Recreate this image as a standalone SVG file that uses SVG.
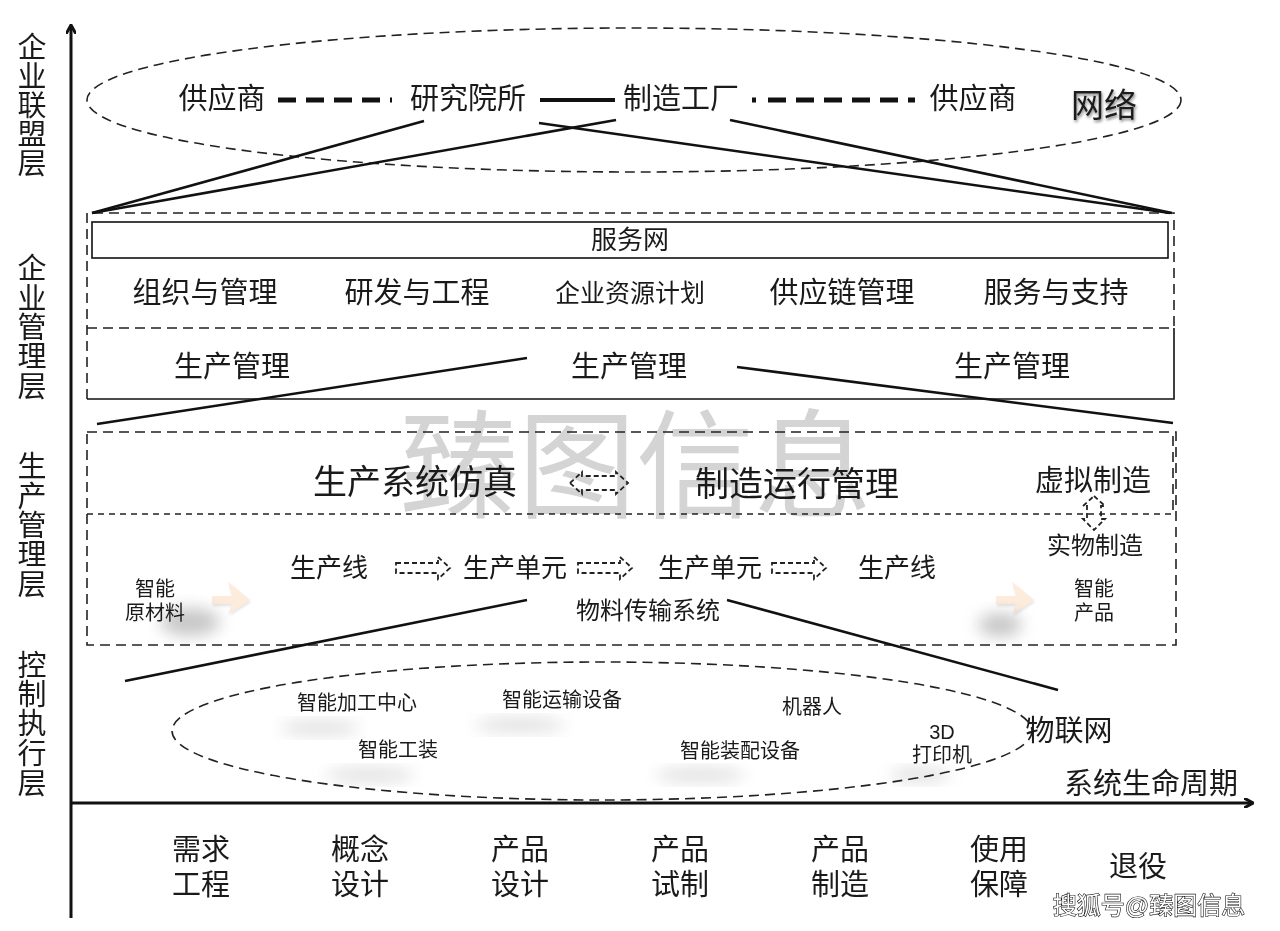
<svg xmlns="http://www.w3.org/2000/svg" width="1280" height="931" viewBox="0 0 1280 931">
<style>
text{font-family:"Liberation Sans","Noto Sans CJK SC",sans-serif;fill:#1a1a1a;text-anchor:middle;dominant-baseline:central}
.ax{font-size:29px}
.l29{font-size:29px}
.l34{font-size:34px}
.l26{font-size:26px}
.l24{font-size:24px}
.l20{font-size:20px}
.dash{fill:none;stroke:#222;stroke-width:1.6;stroke-dasharray:10 6}
.sdash{fill:none;stroke:#222;stroke-width:1.6;stroke-dasharray:6 5}
.solid{fill:none;stroke:#111;stroke-width:1.6}
.conn{stroke:#111;stroke-width:2.6;fill:none}
.barr{fill:none;stroke:#222;stroke-width:1.8;stroke-dasharray:5 3}
</style>
<defs>
<marker id="ah" markerWidth="10" markerHeight="10" refX="8" refY="5" orient="auto" markerUnits="userSpaceOnUse">
<path d="M0,0 L9,5 L0,10" fill="none" stroke="#111" stroke-width="3"/>
</marker>
<filter id="blur" x="-50%" y="-50%" width="200%" height="200%"><feGaussianBlur stdDeviation="8"/></filter>
<filter id="sh" x="-20%" y="-20%" width="140%" height="140%"><feGaussianBlur in="SourceAlpha" stdDeviation="1.5"/><feOffset dx="1" dy="2"/><feComponentTransfer><feFuncA type="linear" slope="0.5"/></feComponentTransfer><feMerge><feMergeNode/><feMergeNode in="SourceGraphic"/></feMerge></filter>
<path id="rarrow" d="M0,-5 H42 V-11 L54,0 L42,11 V5 H0 Z"/>
</defs>
<rect width="1280" height="931" fill="#fff"/>

<!-- watermark -->
<text x="636" y="468" style="font-size:118px;fill:#d4d4d4">臻图信息</text>

<!-- background blurs -->
<g id="blurs" opacity="0.55">
<ellipse cx="190" cy="622" rx="30" ry="14" fill="#999" filter="url(#blur)"/>
<ellipse cx="1000" cy="625" rx="22" ry="12" fill="#999" filter="url(#blur)"/>
<ellipse cx="320" cy="728" rx="40" ry="6" fill="#bbb" filter="url(#blur)"/>
<ellipse cx="520" cy="725" rx="45" ry="6" fill="#bbb" filter="url(#blur)"/>
<ellipse cx="370" cy="775" rx="45" ry="6" fill="#bbb" filter="url(#blur)"/>
<ellipse cx="700" cy="775" rx="45" ry="6" fill="#bbb" filter="url(#blur)"/>
<ellipse cx="920" cy="775" rx="30" ry="6" fill="#bbb" filter="url(#blur)"/>
</g>
<g id="orange" opacity="0.22" fill="#f5a35a">
<path d="M212,596 L232,596 L228,582 L250,600 L228,614 L232,604 L212,604 Z" filter="url(#sh)"/>
<path d="M996,596 L1016,596 L1012,582 L1034,600 L1012,614 L1016,604 L996,604 Z" filter="url(#sh)"/>
</g>

<!-- axes -->
<g id="axes">
<line x1="71" y1="918" x2="71" y2="26" stroke="#111" stroke-width="3" marker-end="url(#ah)"/>
<line x1="70" y1="803" x2="1252" y2="803" stroke="#111" stroke-width="3" marker-end="url(#ah)"/>
</g>

<!-- layer labels -->
<g id="layer-labels" class="ax">
<text class="ax" x="32" y="48">企</text><text class="ax" x="32" y="77">业</text><text class="ax" x="32" y="106">联</text><text class="ax" x="32" y="135">盟</text><text class="ax" x="32" y="164">层</text>
<text class="ax" x="32" y="269">企</text><text class="ax" x="32" y="299">业</text><text class="ax" x="32" y="328">管</text><text class="ax" x="32" y="357">理</text><text class="ax" x="32" y="387">层</text>
<text class="ax" x="32" y="467">生</text><text class="ax" x="32" y="497">产</text><text class="ax" x="32" y="526">管</text><text class="ax" x="32" y="555">理</text><text class="ax" x="32" y="585">层</text>
<text class="ax" x="32" y="666">控</text><text class="ax" x="32" y="695">制</text><text class="ax" x="32" y="724">执</text><text class="ax" x="32" y="754">行</text><text class="ax" x="32" y="784">层</text>
</g>

<!-- alliance layer -->
<g id="alliance">
<ellipse cx="634" cy="100" rx="547" ry="72" class="dash"/>
<text class="l29" x="222" y="99">供应商</text>
<text class="l29" x="468" y="99">研究院所</text>
<text class="l29" x="681" y="99">制造工厂</text>
<text class="l29" x="973" y="99">供应商</text>
<text x="1104" y="105" style="font-size:33px" filter="url(#sh)">网络</text>
</g>

<!-- enterprise management layer -->
<g id="enterprise">
<path d="M87,399 V213 H1174 V328" class="dash"/>
<line x1="87" y1="328" x2="1174" y2="328" class="dash"/>
<path d="M87,399 H1174 V328" class="solid"/>
<rect x="92" y="222" width="1076" height="36" class="solid"/>
<text class="l26" x="630" y="240">服务网</text>
<text class="l29" x="205" y="293">组织与管理</text>
<text class="l29" x="417" y="293">研发与工程</text>
<text x="630" y="293" style="font-size:25px">企业资源计划</text>
<text class="l29" x="842" y="293">供应链管理</text>
<text class="l29" x="1056" y="293">服务与支持</text>
<text class="l29" x="232" y="367">生产管理</text>
<text class="l29" x="629" y="367">生产管理</text>
<text class="l29" x="1012" y="367">生产管理</text>
</g>

<!-- production layer -->
<g id="production">
<rect x="87" y="432" width="1089" height="213" class="dash"/>
<line x1="1173" y1="436" x2="1173" y2="510" class="dash"/>
<line x1="87" y1="514" x2="1176" y2="514" class="sdash"/>
<text class="l34" x="415" y="482">生产系统仿真</text>
<text class="l34" x="797" y="484">制造运行管理</text>
<text class="l29" x="1093" y="481">虚拟制造</text>
<text class="l24" x="1095" y="545">实物制造</text>
<path d="M570,483 L582,472 V476 H616 V472 L628,483 L616,494 V490 H582 V494 Z" class="barr"/>
<path d="M1094,496 L1105,506 H1101 V519 H1105 L1094,530 L1083,519 H1087 V506 H1083 Z" class="barr"/>
<text class="l26" x="329" y="568">生产线</text>
<use href="#rarrow" x="396" y="568" class="barr"/>
<text class="l26" x="515" y="568">生产单元</text>
<use href="#rarrow" x="578" y="568" class="barr"/>
<text class="l26" x="710" y="568">生产单元</text>
<use href="#rarrow" x="772" y="568" class="barr"/>
<text class="l26" x="897" y="568">生产线</text>
<text class="l24" x="648" y="610">物料传输系统</text>
<text class="l20" x="155" y="589">智能</text>
<text class="l20" x="155" y="613">原材料</text>
<text class="l20" x="1094" y="589">智能</text>
<text class="l20" x="1094" y="613">产品</text>
</g>

<!-- control layer -->
<g id="control">
<ellipse cx="602" cy="731" rx="430" ry="69" class="dash"/>
<text class="l20" x="357" y="703">智能加工中心</text>
<text class="l20" x="562" y="700">智能运输设备</text>
<text class="l20" x="398" y="750">智能工装</text>
<text class="l20" x="812" y="707">机器人</text>
<text class="l20" x="740" y="751">智能装配设备</text>
<text class="l20" x="942" y="732">3D</text>
<text class="l20" x="942" y="755">打印机</text>
<text class="l29" x="1069" y="731">物联网</text>
<text class="l29" x="1151" y="784">系统生命周期</text>
</g>

<!-- connectors -->
<g id="connectors">
<line x1="278" y1="100" x2="392" y2="100" stroke="#111" stroke-width="5" stroke-dasharray="18 10"/>
<line x1="540" y1="100" x2="615" y2="100" stroke="#111" stroke-width="4"/>
<line x1="752" y1="100" x2="915" y2="100" stroke="#111" stroke-width="5" stroke-dasharray="4 12 18 10 18 10 18 10 18 10 18 10 18 10"/>
<line x1="424" y1="121" x2="92" y2="213" class="conn"/>
<line x1="616" y1="120" x2="92" y2="213" class="conn"/>
<line x1="539" y1="123" x2="1170" y2="213" class="conn"/>
<line x1="730" y1="120" x2="1172" y2="213" class="conn"/>
<line x1="527" y1="358" x2="97" y2="424" class="conn"/>
<line x1="737" y1="367" x2="1173" y2="423" class="conn"/>
<line x1="527" y1="600" x2="125" y2="681" class="conn"/>
<line x1="727" y1="600" x2="1058" y2="690" class="conn"/>
</g>

<!-- lifecycle -->
<g id="lifecycle">
<text class="l29" x="201" y="850">需求</text><text class="l29" x="201" y="885">工程</text>
<text class="l29" x="360" y="850">概念</text><text class="l29" x="360" y="885">设计</text>
<text class="l29" x="520" y="850">产品</text><text class="l29" x="520" y="885">设计</text>
<text class="l29" x="680" y="850">产品</text><text class="l29" x="680" y="885">试制</text>
<text class="l29" x="840" y="850">产品</text><text class="l29" x="840" y="885">制造</text>
<text class="l29" x="999" y="850">使用</text><text class="l29" x="999" y="885">保障</text>
<text class="l29" x="1138" y="867">退役</text>
<text x="1149" y="905" style="font-size:24px;fill:#fff;stroke:#111;stroke-width:1.2;paint-order:stroke">搜狐号@臻图信息</text>
</g>
</svg>
